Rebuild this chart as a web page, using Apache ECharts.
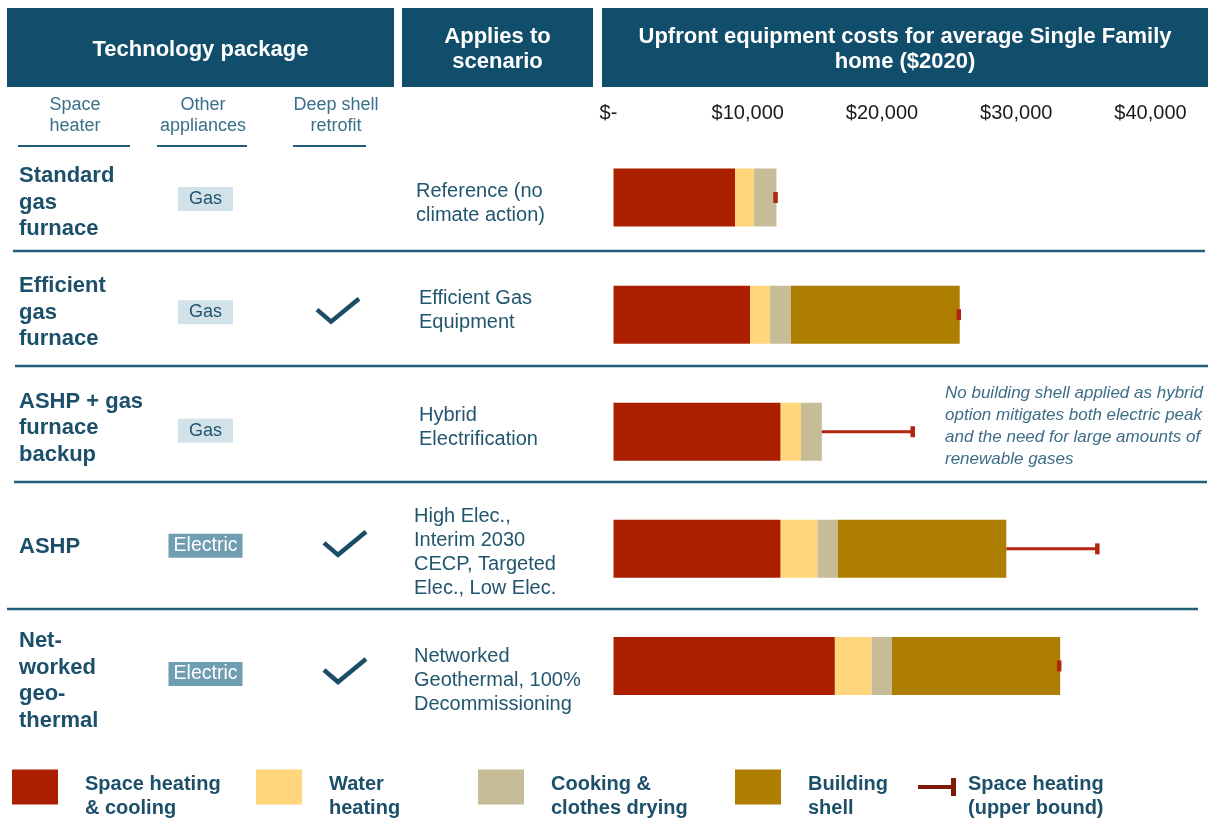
<!DOCTYPE html>
<html>
<head>
<meta charset="utf-8">
<title>Upfront equipment costs</title>
<script src="https://cdn.jsdelivr.net/npm/echarts@6/dist/echarts.min.js"></script>
<style>
  html, body { margin: 0; padding: 0; background: #fff; }
  #chart { width: 1232px; height: 819px; }
</style>
</head>
<body>
<div id="chart"></div>
<script>
// rows, top to bottom
const packages = ['Standard\ngas\nfurnace', 'Efficient\ngas\nfurnace', 'ASHP + gas\nfurnace\nbackup', 'ASHP', 'Net-\nworked\ngeo-\nthermal']
const otherAppliances = ['Gas', 'Gas', 'Gas', 'Electric', 'Electric']
const deepShell = [false, true, false, true, true]
const scenarios = [
  'Reference (no\nclimate action)',
  'Efficient Gas\nEquipment',
  'Hybrid\nElectrification',
  'High Elec.,\nInterim 2030\nCECP, Targeted\nElec., Low Elec.',
  'Networked\nGeothermal, 100%\nDecommissioning',
]

// cost components ($2020)
const spaceHeating = [9050, 10170, 12450, 12450, 16490]
const waterHeating = [1420, 1490, 1510, 2750, 2730]
const cooking = [1670, 1560, 1560, 1510, 1510]
const buildingShell = [0, 12570, 0, 12550, 12540]
// where the space heating upper bound whisker ends
const spaceHeatingUpper = [12200, 25850, 22420, 36170, 33330]

const xTicks = [0, 10000, 20000, 30000, 40000]
const xTickLabels = ['$-', '$10,000', '$20,000', '$30,000', '$40,000']

const seriesNames = ['Space heating & cooling', 'Water heating', 'Cooking & clothes drying', 'Building shell', 'Space heating (upper bound)']
const legendLines = [['Space heating', '& cooling'], ['Water', 'heating'], ['Cooking &', 'clothes drying'], ['Building', 'shell'], ['Space heating', '(upper bound)']]
const note = 'No building shell applied as hybrid\noption mitigates both electric peak\nand the need for large amounts of\nrenewable gases'

const FONT = '"Liberation Sans", Arial, Helvetica, sans-serif'
const NAVY = '#114e6b'
const TEAL_TEXT = '#1c4f6a'
const colors = ['#ab1f00', '#ffd67b', '#c6bd98', '#ae7e00']
const WHISKER = '#b1260e'

const totals = spaceHeating.map((v, i) => v + waterHeating[i] + cooking[i] + buildingShell[i])

const chart = echarts.init(document.getElementById('chart'), null, { renderer: 'canvas' })

function barSeries(name, data, color) {
  return {
    name: name,
    type: 'bar',
    stack: 'cost',
    barWidth: 58,
    data: data,
    itemStyle: { color: color },
    emphasis: { disabled: true },
  }
}

function legendTextStyle(gap) {
  return {
    fontFamily: FONT,
    fontSize: 20,
    fontWeight: 'bold',
    color: TEAL_TEXT,
    padding: [0, 0, 0, gap],
    rich: {
      p: { fontSize: 1, lineHeight: 18 },
      t: { fontFamily: FONT, fontSize: 20, fontWeight: 'bold', color: TEAL_TEXT, lineHeight: 24 },
    },
  }
}

// blank first line pushes the two text lines a little below the icon centre
function legendFormatter(n) {
  const lines = legendLines[seriesNames.indexOf(n)]
  return '{p| }\n{t|' + lines[0] + '}\n{t|' + lines[1] + '}'
}

function legendBox(name, left, opts) {
  return Object.assign({
    left: left,
    top: 762.5,
    padding: 0,
    orient: 'horizontal',
    selectedMode: false,
    icon: 'rect',
    itemWidth: 46,
    itemHeight: 35,
    data: [name],
    formatter: legendFormatter,
    textStyle: legendTextStyle(22),
  }, opts || {})
}

const option = {
  animation: false,
  backgroundColor: '#fff',
  textStyle: { fontFamily: FONT },
  grid: {
    left: 613.5,
    top: 139,
    width: 537,
    height: 585.5,
    containLabel: false,
    outerBoundsMode: 'none',
  },
  xAxis: {
    type: 'value',
    position: 'top',
    min: 0,
    max: 40000,
    interval: 10000,
    axisLine: { show: false },
    axisTick: { show: false },
    splitLine: { show: false },
    axisLabel: {
      margin: 16,
      fontSize: 20,
      color: '#1a1a1a',
      fontFamily: FONT,
      formatter: (v) => v === 0 ? '{z|' + xTickLabels[0] + '}' : xTickLabels[xTicks.indexOf(v)],
      rich: {
        z: { fontSize: 20, color: '#1a1a1a', fontFamily: FONT, padding: [0, 10, 0, 0] },
      },
    },
  },
  yAxis: {
    type: 'category',
    inverse: true,
    data: packages,
    axisLine: { show: false },
    axisTick: { show: false },
    axisLabel: { show: false },
  },
  legend: [
    legendBox(seriesNames[0], 12),
    legendBox(seriesNames[1], 256),
    legendBox(seriesNames[2], 478),
    legendBox(seriesNames[3], 735),
    legendBox(seriesNames[4], 918, {
      itemWidth: 38,
      itemHeight: 18,
      data: [{
        name: seriesNames[4],
        icon: 'path://M0,7L33,7L33,11L0,11Z M33,0L38,0L38,18L33,18Z',
        itemStyle: { color: '#7f1a08' },
      }],
      textStyle: legendTextStyle(7),
    }),
  ],
  series: [
    barSeries(seriesNames[0], spaceHeating, colors[0]),
    barSeries(seriesNames[1], waterHeating, colors[1]),
    barSeries(seriesNames[2], cooking, colors[2]),
    barSeries(seriesNames[3], buildingShell, colors[3]),
    {
      name: seriesNames[4],
      type: 'custom',
      z: 5,
      itemStyle: { color: WHISKER },
      encode: { x: [1, 2], y: 0 },
      data: totals.map((t, i) => [i, t, spaceHeatingUpper[i]]),
      renderItem: function (params, api) {
        const row = api.value(0)
        const start = api.coord([api.value(1), row])
        const end = api.coord([api.value(2), row])
        return {
          type: 'group',
          children: [
            {
              type: 'line',
              shape: { x1: start[0], y1: start[1], x2: end[0], y2: end[1] },
              style: { stroke: WHISKER, lineWidth: 3 },
            },
            {
              type: 'rect',
              shape: { x: end[0] - 4, y: end[1] - 5.5, width: 4.5, height: 11 },
              style: { fill: WHISKER },
            },
          ],
        }
      },
    },
  ],
}

chart.setOption(option)

// --- table part on the left, laid out around the chart rows ---
const rowY = packages.map((p, i) => chart.convertToPixel({ gridIndex: 0 }, [0, i])[1])
const labelShift = [5, -2, -3.5, -2, 15]
const boxShift = [1.5, -2.5, -1, -3, 8]
const checkShift = [0, -4, 0, -5, 5]
const checkX = [0, 338, 0, 345, 345]
const scenShift = [5.5, -4.5, -4.5, 4, 15]
const scenX = [416, 419, 419, 414, 414]

const graphics = []

// header boxes
const headers = [
  { x: 7, w: 387, text: 'Technology package' },
  { x: 402, w: 191, text: 'Applies to\nscenario' },
  { x: 602, w: 606, text: 'Upfront equipment costs for average Single Family\nhome ($2020)' },
]
headers.forEach((h) => {
  graphics.push({ type: 'rect', shape: { x: h.x, y: 8, width: h.w, height: 79 }, style: { fill: NAVY } })
  graphics.push({
    type: 'text', x: h.x + h.w / 2, y: 49.5,
    style: { text: h.text, fill: '#fff', font: 'bold 22px ' + FONT, lineHeight: 25, align: 'center', verticalAlign: 'middle' },
  })
})

// sub headers
const subHeads = [
  { cx: 75, x1: 18, x2: 130, text: 'Space\nheater' },
  { cx: 203, x1: 157, x2: 247, text: 'Other\nappliances' },
  { cx: 336, x1: 293, x2: 366, text: 'Deep shell\nretrofit' },
]
subHeads.forEach((s) => {
  graphics.push({
    type: 'text', x: s.cx, y: 115.5,
    style: { text: s.text, fill: '#3a6f89', font: '18px ' + FONT, lineHeight: 21, align: 'center', verticalAlign: 'middle' },
  })
  graphics.push({ type: 'line', shape: { x1: s.x1, y1: 146, x2: s.x2, y2: 146 }, style: { stroke: '#1f5d7b', lineWidth: 2 } })
})

// row dividers
const dividers = [
  { y: 251, x1: 13, x2: 1205 },
  { y: 366, x1: 15, x2: 1208 },
  { y: 482, x1: 14, x2: 1207 },
  { y: 609, x1: 7, x2: 1198 },
]
dividers.forEach((d) => {
  graphics.push({ type: 'line', shape: { x1: d.x1, y1: d.y, x2: d.x2, y2: d.y }, style: { stroke: '#215f7d', lineWidth: 2.5 } })
})

packages.forEach((p, i) => {
  const y = rowY[i]
  graphics.push({
    type: 'text', x: 19, y: y + labelShift[i],
    style: { text: p, fill: TEAL_TEXT, font: 'bold 22px ' + FONT, lineHeight: 26.5, align: 'left', verticalAlign: 'middle' },
  })
  const isGas = otherAppliances[i] === 'Gas'
  const bw = isGas ? 55 : 74
  const by = y + boxShift[i]
  graphics.push({
    type: 'rect', shape: { x: 205.5 - bw / 2, y: by - 12, width: bw, height: 24 },
    style: { fill: isGas ? '#d2e2e9' : '#6f9db2' },
  })
  graphics.push({
    type: 'text', x: 205.5, y: by,
    style: { text: otherAppliances[i], fill: isGas ? '#22566f' : '#fff', font: (isGas ? '18px ' : '19.5px ') + FONT, align: 'center', verticalAlign: 'middle' },
  })
  if (deepShell[i]) {
    const cx = checkX[i]
    const cy = y + checkShift[i]
    graphics.push({
      type: 'polyline',
      shape: { points: [[cx - 21, cy - 1], [cx - 7, cy + 11], [cx + 21, cy - 12]] },
      style: { stroke: '#1b4c68', lineWidth: 4.5, fill: null, lineJoin: 'miter' },
    })
  }
  graphics.push({
    type: 'text', x: scenX[i], y: y + scenShift[i],
    style: { text: scenarios[i], fill: '#22566f', font: '20px ' + FONT, lineHeight: 24, align: 'left', verticalAlign: 'middle' },
  })
})

// note next to the hybrid row
graphics.push({
  type: 'text', x: 945, y: rowY[2] - 5,
  style: { text: note, fill: '#3d6d87', font: 'italic 17px ' + FONT, lineHeight: 22, align: 'left', verticalAlign: 'middle' },
})

chart.setOption({ graphic: graphics })
</script>
</body>
</html>
